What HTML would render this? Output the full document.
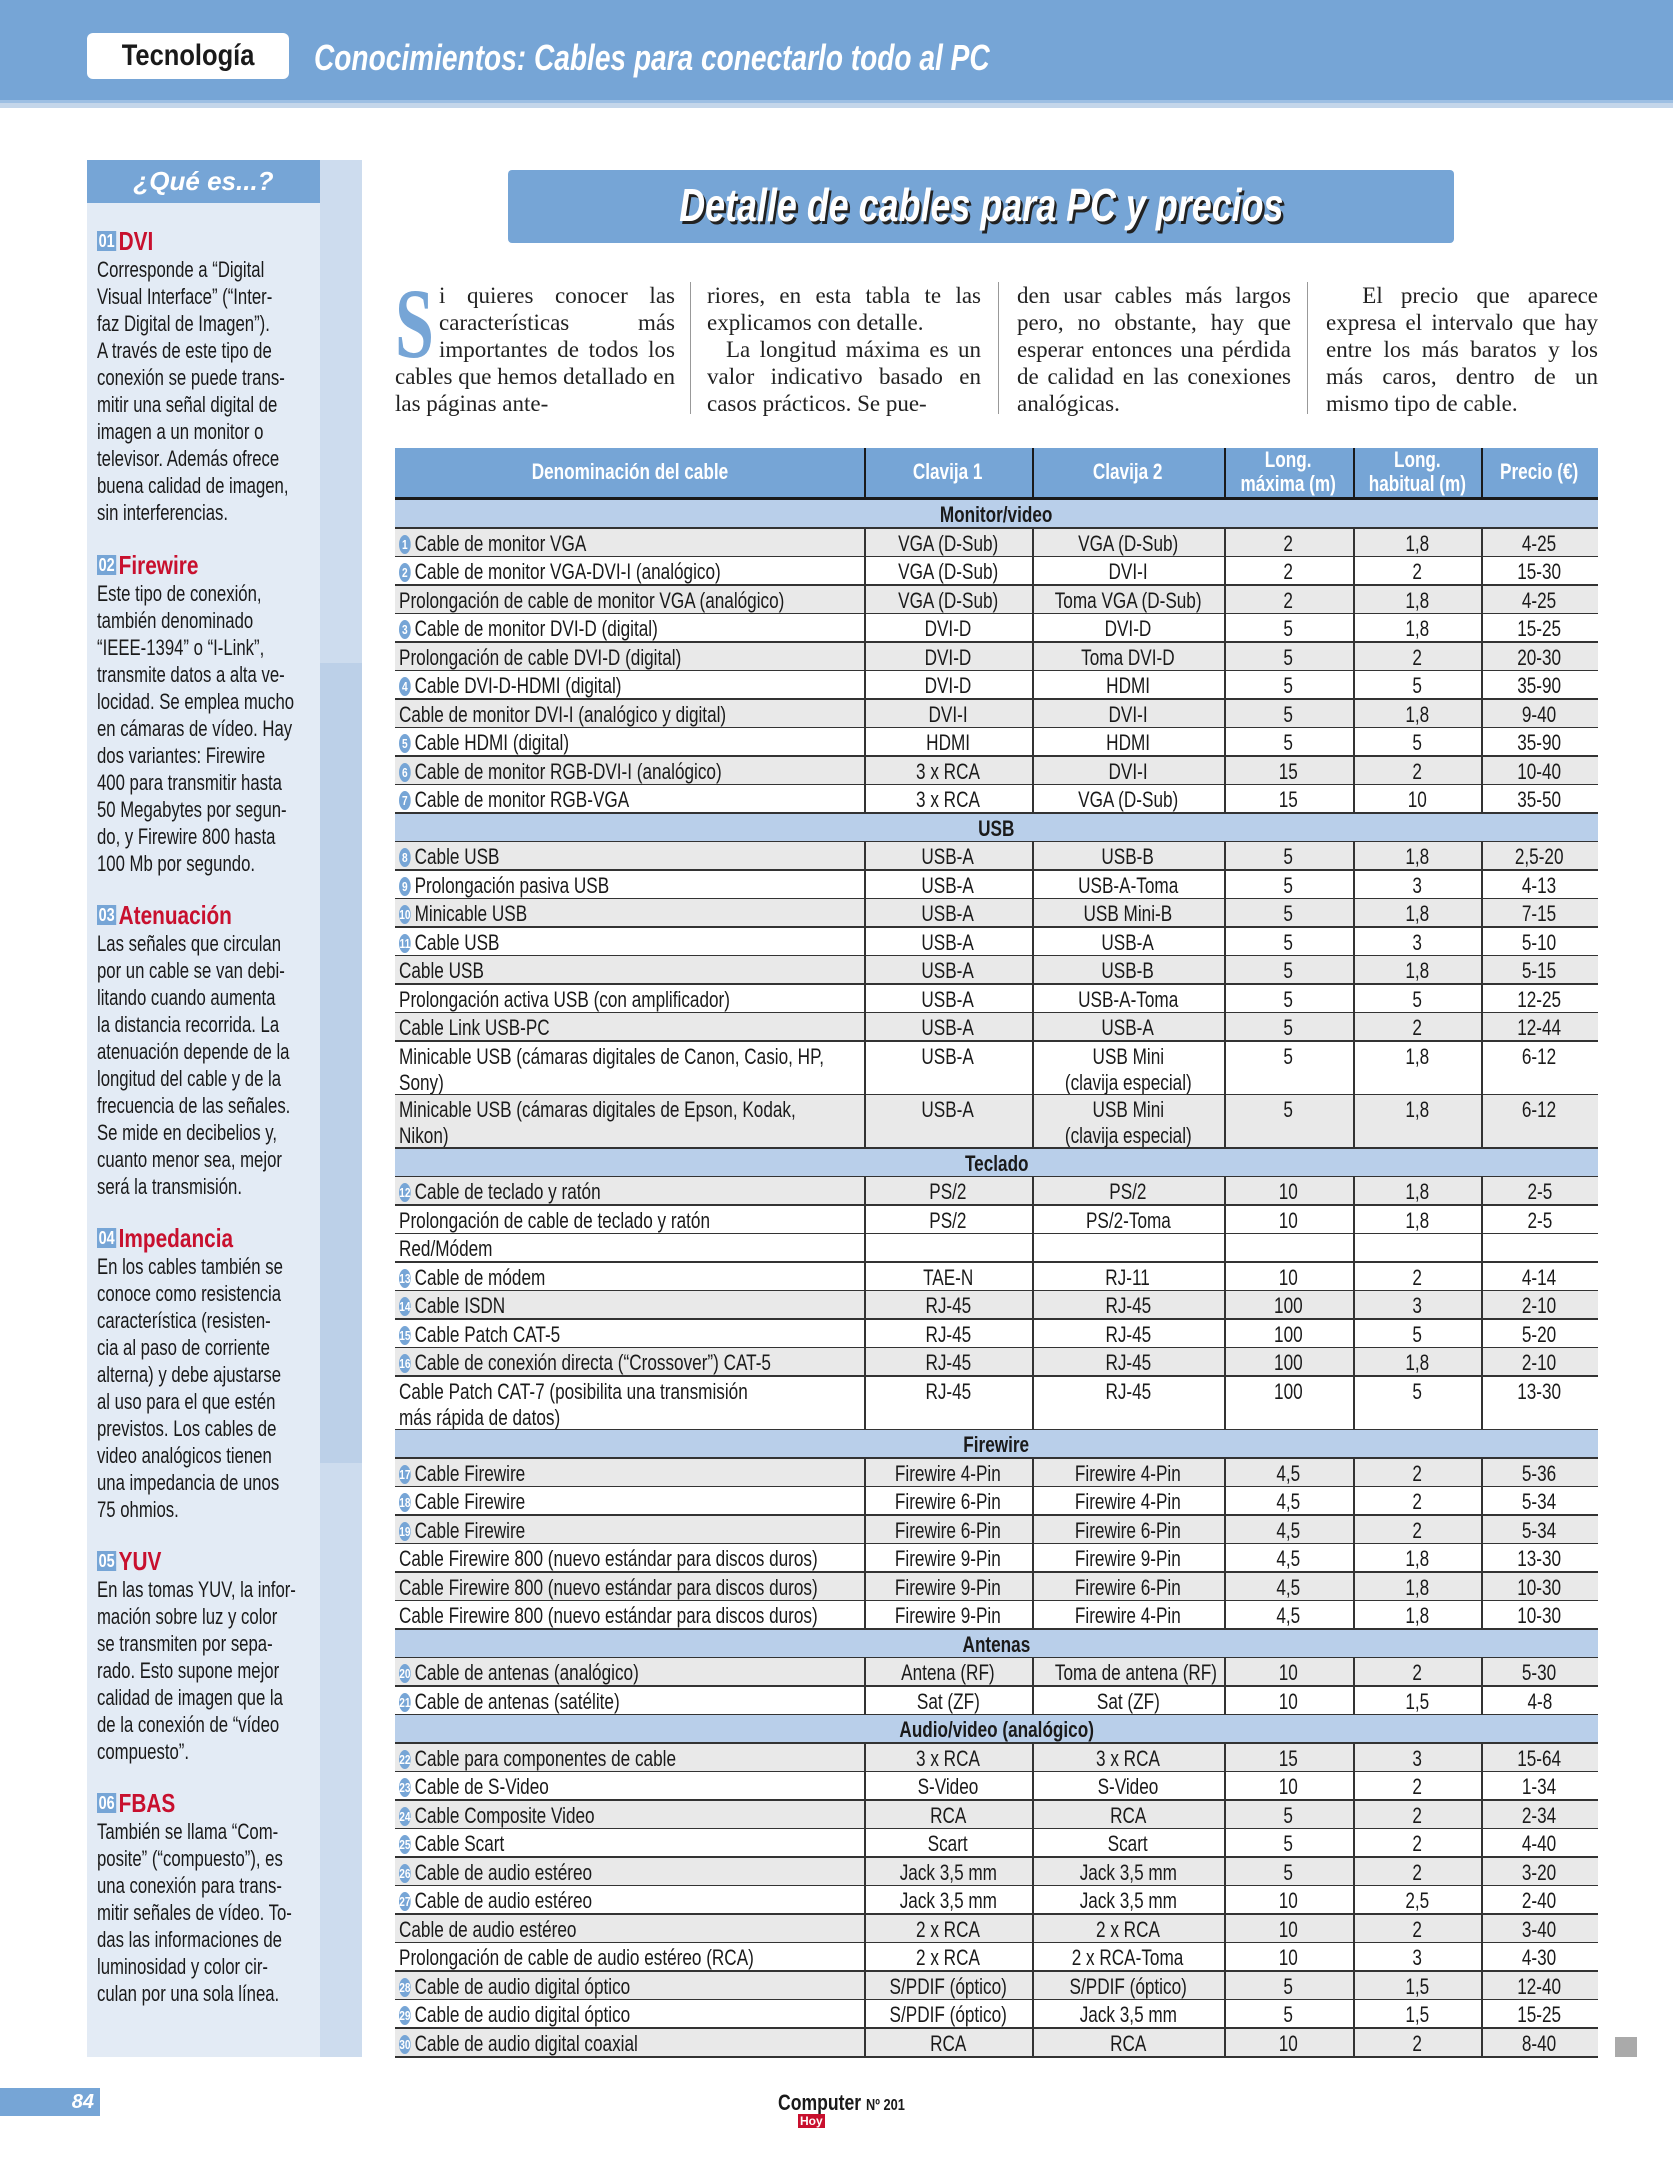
<!DOCTYPE html>
<html><head><meta charset="utf-8">
<style>
body{margin:0;width:1673px;height:2160px;background:#fff;position:relative;overflow:hidden;font-family:"Liberation Sans",sans-serif;color:#1a1a1a}
.abs{position:absolute}
.sx{display:inline-block;transform:scaleX(.78);white-space:nowrap}
.side p{margin:0;font-size:22px;line-height:27px;white-space:nowrap;transform:scaleX(.76);transform-origin:left top}
.side h3{margin:0;font-size:26px;line-height:30px;color:#c8102e;white-space:nowrap;transform:scaleX(.8);transform-origin:left top}
.side h3 span{background:#76a5d6;color:#fff;font-size:18px;padding:0 2px;margin-right:3px;vertical-align:3px}
.intro{font-family:"Liberation Serif",serif;font-size:23px;line-height:27px;text-align:justify;color:#222}
.cell{position:absolute;font-size:22px;line-height:26px;overflow:visible;box-sizing:border-box}
.badge{display:inline-block;width:15px;height:19px;border-radius:50%;background:#76a5d6;color:#fff;font-size:13px;line-height:19px;text-align:center;vertical-align:2px;margin-right:5px;font-weight:bold}
</style></head><body>
<div class="abs" style="left:0;top:0;width:1673px;height:100px;background:#76a5d6;border-bottom:3px solid #9dbfe3;box-shadow:0 5px 0 #c4d6ea"></div>
<div class="abs" style="left:87px;top:33px;width:202px;height:46px;background:#fff;border-radius:6px;font-weight:bold;font-size:30px;line-height:46px;text-align:center"><span class="sx" style="transform:scaleX(.85)">Tecnología</span></div>
<div class="abs" style="left:314px;top:36px;color:#fff;font-weight:bold;font-style:italic;font-size:36px;line-height:44px;white-space:nowrap;transform:scaleX(.78);transform-origin:left top">Conocimientos: Cables para conectarlo todo al PC</div>

<div class="abs side" style="left:87px;top:160px;width:275px;height:1897px;background:#cddcee">
 <div class="abs" style="left:0;top:0;width:233px;height:1897px;background:#e3ebf5"></div>
 <div class="abs" style="left:0;top:0;width:233px;height:43px;background:#76a5d6;color:#fff;font-weight:bold;font-style:italic;font-size:26px;line-height:43px;text-align:center">¿Qué es...?</div>
 <div class="abs" style="left:233px;top:503px;width:42px;height:800px;background:#bcd0e8"></div>
 <div class="abs" style="left:10px;top:66px"><h3><span>01</span>DVI</h3><p>Corresponde a “Digital<br>Visual Interface” (“Inter-<br>faz Digital de Imagen”).<br>A través de este tipo de<br>conexión se puede trans-<br>mitir una señal digital de<br>imagen a un monitor o<br>televisor. Además ofrece<br>buena calidad de imagen,<br>sin interferencias.</p></div>
 <div class="abs" style="left:10px;top:390px"><h3><span>02</span>Firewire</h3><p>Este tipo de conexión,<br>también denominado<br>“IEEE-1394” o “I-Link”,<br>transmite datos a alta ve-<br>locidad. Se emplea mucho<br>en cámaras de vídeo. Hay<br>dos variantes: Firewire<br>400 para transmitir hasta<br>50 Megabytes por segun-<br>do, y  Firewire 800 hasta<br>100 Mb por segundo.</p></div>
 <div class="abs" style="left:10px;top:740px"><h3><span>03</span>Atenuación</h3><p>Las señales que circulan<br>por un cable se van debi-<br>litando cuando aumenta<br>la distancia recorrida. La<br>atenuación depende de la<br>longitud del cable y de la<br>frecuencia de las señales.<br>Se mide en decibelios y,<br>cuanto menor sea, mejor<br>será la transmisión.</p></div>
 <div class="abs" style="left:10px;top:1063px"><h3><span>04</span>Impedancia</h3><p>En los cables también se<br>conoce como resistencia<br>característica (resisten-<br>cia al paso de corriente<br>alterna) y debe ajustarse<br>al uso para el que estén<br>previstos. Los cables de<br>video analógicos tienen<br>una impedancia de unos<br>75 ohmios.</p></div>
 <div class="abs" style="left:10px;top:1386px"><h3><span>05</span>YUV</h3><p>En las tomas YUV, la infor-<br>mación sobre luz y color<br>se transmiten por  sepa-<br>rado. Esto supone mejor<br>calidad de imagen que la<br>de la conexión de “vídeo<br>compuesto”.</p></div>
 <div class="abs" style="left:10px;top:1628px"><h3><span>06</span>FBAS</h3><p>También se llama “Com-<br>posite” (“compuesto”), es<br>una conexión para trans-<br>mitir señales de vídeo. To-<br>das las informaciones de<br>luminosidad y  color cir-<br>culan por una sola línea.</p></div>
</div>

<div class="abs" style="left:508px;top:170px;width:946px;height:73px;background:#76a5d6;border-radius:4px;text-align:center;color:#fff;font-weight:bold;font-style:italic;font-size:46px;line-height:70px;text-shadow:3px 3px 0 #222"><span class="sx" style="transform:scaleX(.78)">Detalle de cables para PC y precios</span></div>

<div class="abs intro" style="left:395px;top:282px;width:280px"><span style="float:left;width:42px;height:80px;position:relative;margin:0 2px 0 0"><span style="position:absolute;left:0;top:2px;font-size:100px;line-height:80px;color:#76a5d6;font-weight:bold;transform:scaleX(.7);transform-origin:left top">S</span></span>i quieres conocer las características más importantes de todos los cables que hemos deta­llado en las páginas ante-</div>
<div class="abs" style="left:690px;top:282px;width:1px;height:132px;background:#999"></div>
<div class="abs intro" style="left:707px;top:282px;width:274px">riores, en esta tabla te las explicamos con detalle.<br>&nbsp;&nbsp;La longitud máxima es un valor indicativo basado en casos prácticos. Se pue-</div>
<div class="abs" style="left:998px;top:282px;width:1px;height:132px;background:#999"></div>
<div class="abs intro" style="left:1017px;top:282px;width:274px">den usar cables más largos pero, no obstante, hay que esperar entonces una pér­dida de calidad en las co­nexiones analógicas.</div>
<div class="abs" style="left:1307px;top:282px;width:1px;height:132px;background:#999"></div>
<div class="abs intro" style="left:1326px;top:282px;width:272px">&nbsp;&nbsp;El precio que aparece expresa el intervalo que hay entre los más baratos y los más caros, dentro de un mismo tipo de cable.</div>

<div id="tbl" class="abs" style="left:0;top:0"></div>

<div class="abs" style="left:0;top:2088px;width:100px;height:28px;background:#76a5d6;color:#fff;font-weight:bold;font-style:italic;font-size:20px;line-height:28px;text-align:right;box-sizing:border-box;padding-right:6px">84</div>
<div class="abs" style="left:778px;top:2090px;font-weight:bold;font-size:22px;white-space:nowrap"><span class="sx" style="transform:scaleX(.8);transform-origin:left">Computer <span style="font-size:16px">Nº 201</span></span></div>
<div class="abs" style="left:798px;top:2114px;background:#c8102e;color:#fff;font-size:12px;font-weight:bold;padding:0 2px">Hoy</div>
<div class="abs" style="left:1615px;top:2037px;width:22px;height:20px;background:#aaa"></div>

<script>
const colX=[395,864,1032,1224,1353,1481,1598];
const headers=["Denominación del cable","Clavija 1","Clavija 2","Long.<br>máxima (m)","Long.<br>habitual (m)","Precio (€)"];
const rowTypes=["s","r","r","r","r","r","r","r","r","r","r","s","r","r","r","r","r","r","r","d","d","s","r","r","t","r","r","r","r","d","s","r","r","r","r","r","r","s","r","r","s","r","r","r","r","r","r","r","r","r","r","r"];
const badges=["",1,2,"",3,"",4,"",5,6,7,"",8,9,10,11,"","","","","","",12,"","",13,14,15,16,"","",17,18,19,"","","","",20,21,"",22,23,24,25,26,27,"","",28,29,30];
const names=["Monitor/video","Cable de monitor VGA","Cable de monitor VGA-DVI-I (analógico)","Prolongación de cable de monitor VGA (analógico)","Cable de monitor DVI-D (digital)","Prolongación de cable DVI-D (digital)","Cable DVI-D-HDMI (digital)","Cable de monitor DVI-I (analógico y digital)","Cable HDMI (digital)","Cable de monitor RGB-DVI-I (analógico)","Cable de monitor RGB-VGA",
"USB","Cable USB","Prolongación pasiva USB","Minicable USB","Cable USB","Cable USB","Prolongación activa USB (con amplificador)","Cable Link USB-PC","Minicable USB (cámaras digitales de Canon, Casio, HP,<br>Sony)","Minicable USB (cámaras digitales de Epson, Kodak,<br>Nikon)",
"Teclado","Cable de teclado y ratón","Prolongación de cable de teclado y ratón","Red/Módem","Cable de módem","Cable ISDN","Cable Patch CAT-5","Cable de conexión directa (“Crossover”) CAT-5","Cable Patch CAT-7 (posibilita una transmisión<br>más rápida de datos)",
"Firewire","Cable Firewire","Cable Firewire","Cable Firewire","Cable Firewire 800 (nuevo estándar para discos duros)","Cable Firewire 800 (nuevo estándar para discos duros)","Cable Firewire 800 (nuevo estándar para discos duros)",
"Antenas","Cable de antenas (analógico)","Cable de antenas (satélite)",
"Audio/video (analógico)","Cable para componentes de cable","Cable de S-Video","Cable Composite Video","Cable Scart","Cable de audio estéreo","Cable de audio estéreo","Cable de audio estéreo","Prolongación de cable de audio estéreo (RCA)","Cable de audio digital óptico","Cable de audio digital óptico","Cable de audio digital coaxial"];
const clavija1=["","VGA (D-Sub)","VGA (D-Sub)","VGA (D-Sub)","DVI-D","DVI-D","DVI-D","DVI-I","HDMI","3 x RCA","3 x RCA","","USB-A","USB-A","USB-A","USB-A","USB-A","USB-A","USB-A","USB-A","USB-A","","PS/2","PS/2","","TAE-N","RJ-45","RJ-45","RJ-45","RJ-45","","Firewire 4-Pin","Firewire 6-Pin","Firewire 6-Pin","Firewire 9-Pin","Firewire 9-Pin","Firewire 9-Pin","","Antena (RF)","Sat (ZF)","","3 x RCA","S-Video","RCA","Scart","Jack 3,5 mm","Jack 3,5 mm","2 x RCA","2 x RCA","S/PDIF (óptico)","S/PDIF (óptico)","RCA"];
const clavija2=["","VGA (D-Sub)","DVI-I","Toma VGA (D-Sub)","DVI-D","Toma DVI-D","HDMI","DVI-I","HDMI","DVI-I","VGA (D-Sub)","","USB-B","USB-A-Toma","USB Mini-B","USB-A","USB-B","USB-A-Toma","USB-A","USB Mini<br>(clavija especial)","USB Mini<br>(clavija especial)","","PS/2","PS/2-Toma","","RJ-11","RJ-45","RJ-45","RJ-45","RJ-45","","Firewire 4-Pin","Firewire 4-Pin","Firewire 6-Pin","Firewire 9-Pin","Firewire 6-Pin","Firewire 4-Pin","","Toma de antena (RF)","Sat (ZF)","","3 x RCA","S-Video","RCA","Scart","Jack 3,5 mm","Jack 3,5 mm","2 x RCA","2 x RCA-Toma","S/PDIF (óptico)","Jack 3,5 mm","RCA"];
const longMax=["","2","2","2","5","5","5","5","5","15","15","","5","5","5","5","5","5","5","5","5","","10","10","","10","100","100","100","100","","4,5","4,5","4,5","4,5","4,5","4,5","","10","10","","15","10","5","5","5","10","10","10","5","5","10"];
const longHab=["","1,8","2","1,8","1,8","2","5","1,8","5","2","10","","1,8","3","1,8","3","1,8","5","2","1,8","1,8","","1,8","1,8","","2","3","5","1,8","5","","2","2","2","1,8","1,8","1,8","","2","1,5","","3","2","2","2","2","2,5","2","3","1,5","1,5","2"];
const prices=["","4-25","15-30","4-25","15-25","20-30","35-90","9-40","35-90","10-40","35-50","","2,5-20","4-13","7-15","5-10","5-15","12-25","12-44","6-12","6-12","","2-5","2-5","","4-14","2-10","5-20","2-10","13-30","","5-36","5-34","5-34","13-30","10-30","10-30","","5-30","4-8","","15-64","1-34","2-34","4-40","3-20","2-40","3-40","4-30","12-40","15-25","8-40"];

const T=document.getElementById('tbl');
function box(x,y,w,h,bg){const d=document.createElement('div');d.className='abs';d.style.cssText=`left:${x}px;top:${y}px;width:${w}px;height:${h}px;background:${bg}`;T.appendChild(d);return d;}
function cell(x,y,w,h,html,align,extra){const d=document.createElement('div');d.className='cell';d.style.cssText=`left:${x}px;top:${y}px;width:${w}px;height:${h}px;text-align:${align};padding:${align==='left'?'0 0 0 4px':'0'};${extra||''}`;
 d.innerHTML=`<span class="sx" style="transform-origin:${align==='left'?'left':'center'} top">${html}</span>`;T.appendChild(d);return d;}
const W=colX[6]-colX[0];
const hy=448,hh=51;
const hb=box(colX[0],hy,W,hh,'#76a5d6');


for(let i=0;i<6;i++){
 const c=cell(colX[i],hy+(headers[i].includes('<br>')?0:12),colX[i+1]-colX[i],hh,headers[i],'center','color:#fff;font-weight:bold;line-height:24px');
 
 
 if(i>0)box(colX[i],hy,2,hh,'#1a1a1a');
}
box(colX[0],hy+hh-2,W,3,'#1a1a1a');
let y=hy+hh+1, alt=0;
const H1=28.5,H2=53.5;
for(let r=0;r<rowTypes.length;r++){
 const t=rowTypes[r];const h=t==='d'?H2:H1;
 if(t==='s'){
  const s=box(colX[0],y,W,h,'#b9cfea');
  
  
  cell(colX[0],y+2,W,h,names[r],'center','font-weight:bold');
  alt=0;
 } else {
  const bg=t==='t'?'#fff':(alt%2===0?'#e9e9e9':'#fff');alt++;
  const rw=box(colX[0],y,W,h,bg);
  
  
  const b=badges[r]!==''?`<span class="badge">${badges[r]}</span>`:'';
  cell(colX[0],y+2,colX[1]-colX[0],h,b+names[r],'left','line-height:26px');
  const vals=[clavija1[r],clavija2[r],longMax[r],longHab[r],prices[r]];
  for(let i=0;i<5;i++){cell(colX[i+1],y+2,colX[i+2]-colX[i+1],h,vals[i],'center','line-height:26px');}
  for(let i=1;i<6;i++)box(colX[i],y,1.5,h,'#333');
 }
 box(colX[0],y+h-1.5,W,2,'#333');
 y+=h;
}
</script>
</body></html>
